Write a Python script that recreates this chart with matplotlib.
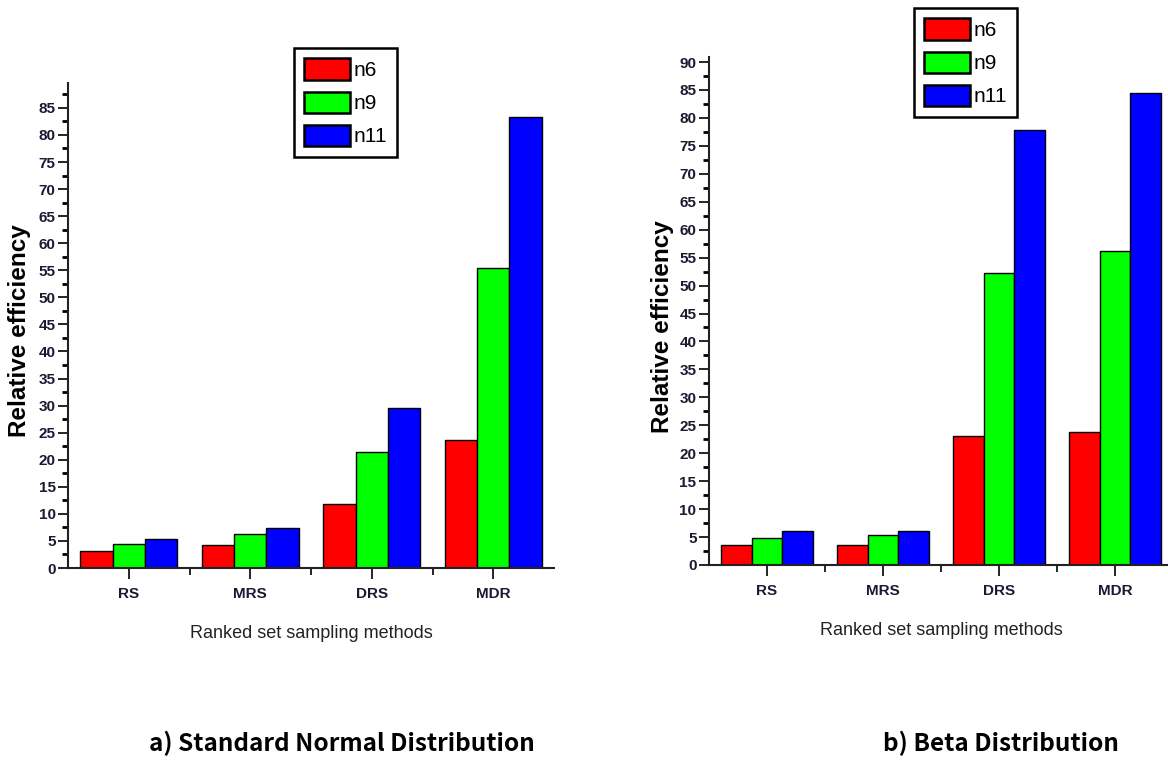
import matplotlib
matplotlib.use('Agg')
import matplotlib.pyplot as plt
from matplotlib.ticker import MultipleLocator

# data
methods = ['RS', 'MRS', 'DRS', 'MDR']
series = ['n6', 'n9', 'n11']
colors = ['#ff0000', '#00ff00', '#0000ff']

normal_n6 = [3.2, 4.3, 11.9, 23.6]
normal_n9 = [4.5, 6.3, 21.5, 55.5]
normal_n11 = [5.3, 7.3, 29.5, 83.3]

beta_n6 = [3.5, 3.5, 23.0, 23.8]
beta_n9 = [4.9, 5.4, 52.3, 56.2]
beta_n11 = [6.0, 6.0, 77.8, 84.5]

arial = ['Liberation Sans', 'DejaVu Sans']

fig = plt.figure(figsize=(11.68, 7.61), dpi=100)


def draw(ax, values, ytop, ymax):
  x = range(1, len(methods) + 1)
  w = 0.265
  for i, (vals, col, name) in enumerate(zip(values, colors, series)):
    ax.bar([xi + (i - 1) * w for xi in x], vals, width=w, color=col,
           edgecolor='black', linewidth=1.0, label=name)
  ax.set_xlim(0.5, 4.5)
  ax.set_ylim(0, ytop)
  for s in ['top', 'right']:
    ax.spines[s].set_visible(False)
  for s in ['left', 'bottom']:
    ax.spines[s].set_linewidth(1.5)
    ax.spines[s].set_color('#222222')
  ax.set_yticks(range(0, ymax + 1, 5))
  ax.yaxis.set_minor_locator(MultipleLocator(2.5))
  ax.set_xticks(list(x))
  ax.set_xticks([1.5, 2.5, 3.5], minor=True)
  ax.set_xticklabels(methods)
  ax.tick_params(axis='y', which='major', direction='out', length=7, width=1.2, pad=2)
  ax.tick_params(axis='y', which='minor', direction='out', length=4, width=2)
  ax.tick_params(axis='x', which='major', direction='out', length=8, width=1.2, pad=6)
  ax.tick_params(axis='x', which='minor', direction='out', length=5, width=1.2)
  for lab in ax.get_yticklabels() + ax.get_xticklabels():
    lab.set_family(arial)
    lab.set_fontweight('bold')
    lab.set_fontsize(11)
    lab.set_color('#1a1a33')
  ax.set_xlabel('Ranked set sampling methods', family=arial, fontsize=13,
                labelpad=17, color='#222222')
  ax.set_ylabel('Relative efficiency', family=arial,
                fontweight='bold', fontsize=17.5, va='center')


ax1 = fig.add_axes([68 / 1168, 1 - 568 / 761, 486 / 1168, 485 / 761])
draw(ax1, [normal_n6, normal_n9, normal_n11], 89.6, 85)
ax1.yaxis.set_label_coords(-0.1, 0.49)

ax2 = fig.add_axes([709 / 1168, 1 - 565 / 761, 464 / 1168, 508 / 761])
draw(ax2, [beta_n6, beta_n9, beta_n11], 90.9, 90)
ax2.yaxis.set_label_coords(-0.101, 0.47)

for ax, anchor in [(ax1, (294 / 1168, 1 - 48 / 761)), (ax2, (914 / 1168, 1 - 8 / 761))]:
  leg = ax.legend(loc='upper left', bbox_to_anchor=anchor,
                  bbox_transform=fig.transFigure, fancybox=False, framealpha=1,
                  edgecolor='black', prop={'family': arial, 'size': 15},
                  handlelength=2.2, handleheight=1.2, labelspacing=0.55,
                  handletextpad=0.15, borderpad=0.5, borderaxespad=0)
  leg.get_frame().set_linewidth(1.8)
  for h in leg.legend_handles:
    h.set_linewidth(1.8)

cap = ['Noto Sans CJK KR', 'DejaVu Sans']
fig.text(342 / 1168, 1 - 743 / 761, 'a) Standard Normal Distribution',
         family=cap, fontweight='bold', fontsize=17.5, ha='center', va='center')
fig.text(1001 / 1168, 1 - 743 / 761, 'b) Beta Distribution',
         family=cap, fontweight='bold', fontsize=17.5, ha='center', va='center')

fig.savefig('out.png', dpi=100)
